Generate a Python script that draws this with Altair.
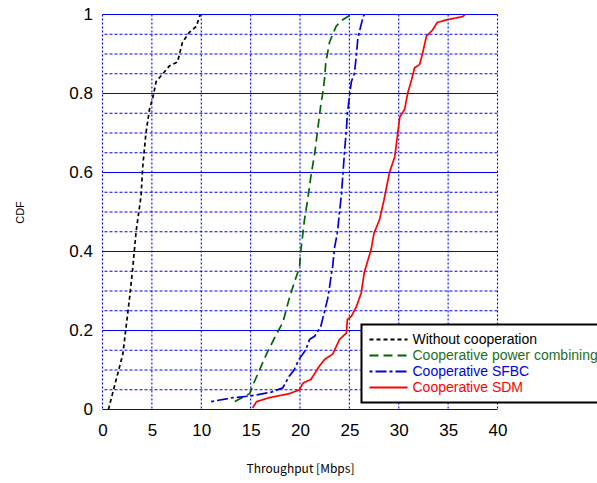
import altair as alt
import pandas as pd

series_names = ["Without cooperation", "Cooperative power combining", "Cooperative SFBC", "Cooperative SDM"]
series_colors = ["#000000", "#006400", "#0000dd", "#ff0000"]
series_dashes = [[4, 3], [9, 5], [3, 3, 11, 3], [1, 0]]

black_x = [0.6, 0.7, 2.06, 2.73, 3.07, 3.4, 3.9, 4.08, 4.4, 4.76, 5.1, 5.43, 6.78, 7.6, 8.1, 8.8, 9.5, 9.9]
black_y = [0.0, 0.01, 0.14, 0.28, 0.36, 0.45, 0.54, 0.616, 0.70, 0.76, 0.79, 0.83, 0.87, 0.88, 0.93, 0.955, 0.97, 1.0]

green_x = [13.4, 14.9, 15.2, 15.9, 16.6, 17.6, 18.26, 18.9, 19.4, 19.95, 20.1, 20.45, 20.8, 21.1, 21.5, 21.8,
           22.1, 22.3, 22.5, 22.6, 22.99, 23.65, 24.2, 25.2]
green_y = [0.02, 0.04, 0.06, 0.10, 0.14, 0.19, 0.22, 0.28, 0.32, 0.36, 0.405, 0.48, 0.535, 0.59, 0.65, 0.71,
           0.77, 0.80, 0.84, 0.876, 0.93, 0.97, 0.985, 1.0]

blue_x = [11.0, 13.2, 14.9, 17.1, 18.26, 18.9, 19.4, 19.9, 20.6, 20.96, 21.5, 22.1, 22.5, 22.8, 22.99, 23.2,
          23.3, 23.5, 23.8, 24.0, 24.2, 24.5, 24.7, 24.8, 25.0, 25.2, 25.5, 25.7, 25.85, 26.0, 26.35, 26.5]
blue_y = [0.02, 0.03, 0.034, 0.044, 0.055, 0.084, 0.10, 0.127, 0.152, 0.177, 0.186, 0.21, 0.25, 0.28, 0.31, 0.346,
          0.36, 0.41, 0.45, 0.50, 0.545, 0.65, 0.71, 0.75, 0.79, 0.83, 0.85, 0.895, 0.937, 0.955, 0.99, 1.0]

red_x = [15.2, 15.6, 16.9, 18.9, 19.95, 20.3, 21.1, 21.97, 22.5, 23.3, 24.0, 24.7, 24.8, 25.2, 25.7, 26.2,
         26.5, 26.9, 27.2, 27.5, 28.05, 28.5, 29.06, 29.6, 29.9, 30.1, 30.6, 30.9, 31.3, 31.6, 32.1, 32.4,
         32.8, 33.4, 33.9, 34.96, 36.5, 36.7]
red_y = [0.004, 0.02, 0.03, 0.04, 0.05, 0.067, 0.076, 0.11, 0.127, 0.14, 0.177, 0.194, 0.228, 0.236, 0.26, 0.295,
         0.346, 0.38, 0.405, 0.447, 0.48, 0.53, 0.60, 0.64, 0.70, 0.74, 0.76, 0.80, 0.835, 0.865, 0.873, 0.90,
         0.945, 0.96, 0.98, 0.987, 0.995, 1.0]

x_grid = [0, 5, 10, 15, 20, 25, 30, 35, 40]
y_major = [0.0, 0.2, 0.4, 0.6, 0.8, 1.0]
y_minor = [0.05, 0.1, 0.15, 0.25, 0.3, 0.35, 0.45, 0.5, 0.55, 0.65, 0.7, 0.75, 0.85, 0.9, 0.95]

rows = []
for name, xs, ys in zip(series_names, [black_x, green_x, blue_x, red_x], [black_y, green_y, blue_y, red_y]):
    for i, (xv, yv) in enumerate(zip(xs, ys)):
        rows.append({"series": name, "x": xv, "y": yv, "i": i})
df = pd.DataFrame(rows)

GRID = "#0000ff"
xscale = alt.Scale(domain=[0, 40], nice=False)
yscale = alt.Scale(domain=[0, 1], nice=False)

vgrid = alt.Chart(pd.DataFrame({"x": x_grid})).mark_rule(
    color=GRID, strokeWidth=1.1, strokeDash=[2, 2]
).encode(x=alt.X("x:Q", scale=xscale))

hminor = alt.Chart(pd.DataFrame({"y": y_minor})).mark_rule(
    color=GRID, strokeWidth=1.1, strokeDash=[3, 2]
).encode(y=alt.Y("y:Q", scale=yscale))

hmajor = alt.Chart(pd.DataFrame({"y": y_major})).mark_rule(
    color=GRID, strokeWidth=1.1
).encode(y=alt.Y("y:Q", scale=yscale))

label_expr = ("datum.label == 'Without cooperation' ? '#000000' : "
              "datum.label == 'Cooperative power combining' ? '#1e6e1e' : "
              "datum.label == 'Cooperative SFBC' ? '#0000dd' : '#ff0000'")

legend = alt.Legend(
    title=None, orient="none", legendX=259, legendY=310,
    fillColor="white", strokeColor="black", padding=7,
    symbolType="stroke", symbolSize=1444, symbolStrokeWidth=2,
    labelFont="Liberation Sans", labelFontSize=14, labelOffset=4,
    labelColor={"expr": label_expr}, clipHeight=16, rowPadding=0, labelLimit=400,
)

lines = alt.Chart(df).mark_line(strokeWidth=1.7, clip=True).encode(
    x=alt.X("x:Q", scale=xscale,
            axis=alt.Axis(title="Throughput [Mbps]", values=x_grid, grid=False, domain=False, ticks=False,
                          labelFlush=False,
                          labelFont="Liberation Sans", labelFontSize=17, labelColor="black", labelPadding=13,
                          titleFont="Noto Sans CJK JP", titleFontSize=12, titleFontWeight="normal",
                          titlePadding=25, titleColor="black")),
    y=alt.Y("y:Q", scale=yscale,
            axis=alt.Axis(title="CDF", values=y_major, format="~g", grid=False, domain=False, ticks=False,
                          labelFlush=False,
                          labelFont="Liberation Sans", labelFontSize=17, labelColor="black", labelPadding=10,
                          titleFont="Liberation Sans", titleFontSize=11, titleFontWeight="normal",
                          titlePadding=43, titleColor="black")),
    color=alt.Color("series:N", scale=alt.Scale(domain=series_names, range=series_colors), legend=legend,
                    sort=series_names),
    strokeDash=alt.StrokeDash("series:N", scale=alt.Scale(domain=series_names, range=series_dashes),
                              legend=legend, sort=series_names),
    order=alt.Order("i:Q"),
)

chart = alt.layer(vgrid, hminor, hmajor, lines).properties(
    width=395, height=395,
    padding={"left": 102.5, "top": 14.5, "right": 99.5, "bottom": 73.5},
    autosize=alt.AutoSizeParams(type="none"),
).configure_view(stroke=None).configure_legend(strokeWidth=2)

chart.save("out.html", embed_options={"renderer": "svg", "actions": False})
